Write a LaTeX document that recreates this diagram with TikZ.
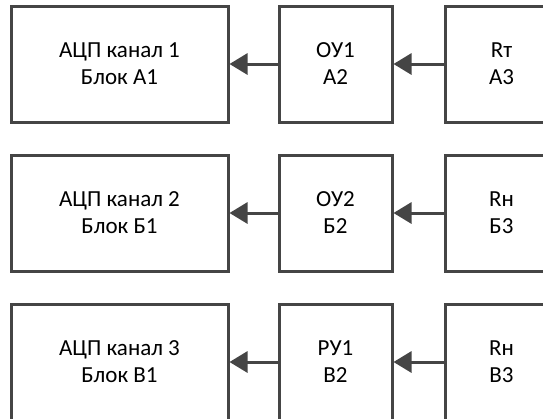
\documentclass[tikz,border=0pt]{standalone}
\usepackage{fontspec}
\setmainfont{Carlito}
\usetikzlibrary{arrows.meta}
\definecolor{lc}{HTML}{454545}
\tikzset{
  blk/.style={draw=lc, line width=3pt, fill=white, align=center, inner sep=0pt,
    font=\fontsize{23}{27}\selectfont, text=black},
  wide/.style={blk, minimum width=217pt, minimum height=116pt},
  narrow/.style={blk, minimum width=113pt, minimum height=116pt},
  conn/.style={draw=lc, line width=3pt, -{Triangle[length=18pt,width=21pt]}}
}
\begin{document}
\begin{tikzpicture}[x=1pt,y=-1pt]
\useasboundingbox (0,0) rectangle (543,418);
\clip (0,0) rectangle (543,418);
% row 1
\node[wide]   (a1) at (119.5,64) {АЦП канал 1\\Блок А1};
\node[narrow] (a2) at (335.5,64) {ОУ1\\А2};
\node[narrow] (a3) at (501.5,64) {Rт\\А3};
% row 2
\node[wide]   (b1) at (119.5,213) {АЦП канал 2\\Блок Б1};
\node[narrow] (b2) at (335.5,213) {ОУ2\\Б2};
\node[narrow] (b3) at (501.5,213) {Rн\\Б3};
% row 3
\node[wide]   (c1) at (119.5,362) {АЦП канал 3\\Блок В1};
\node[narrow] (c2) at (335.5,362) {РУ1\\В2};
\node[narrow] (c3) at (501.5,362) {Rн\\В3};
% connectors
\draw[conn] (a3) -- (a2);
\draw[conn] (a2) -- (a1);
\draw[conn] (b3) -- (b2);
\draw[conn] (b2) -- (b1);
\draw[conn] (c3) -- (c2);
\draw[conn] (c2) -- (c1);
\end{tikzpicture}
\end{document}
